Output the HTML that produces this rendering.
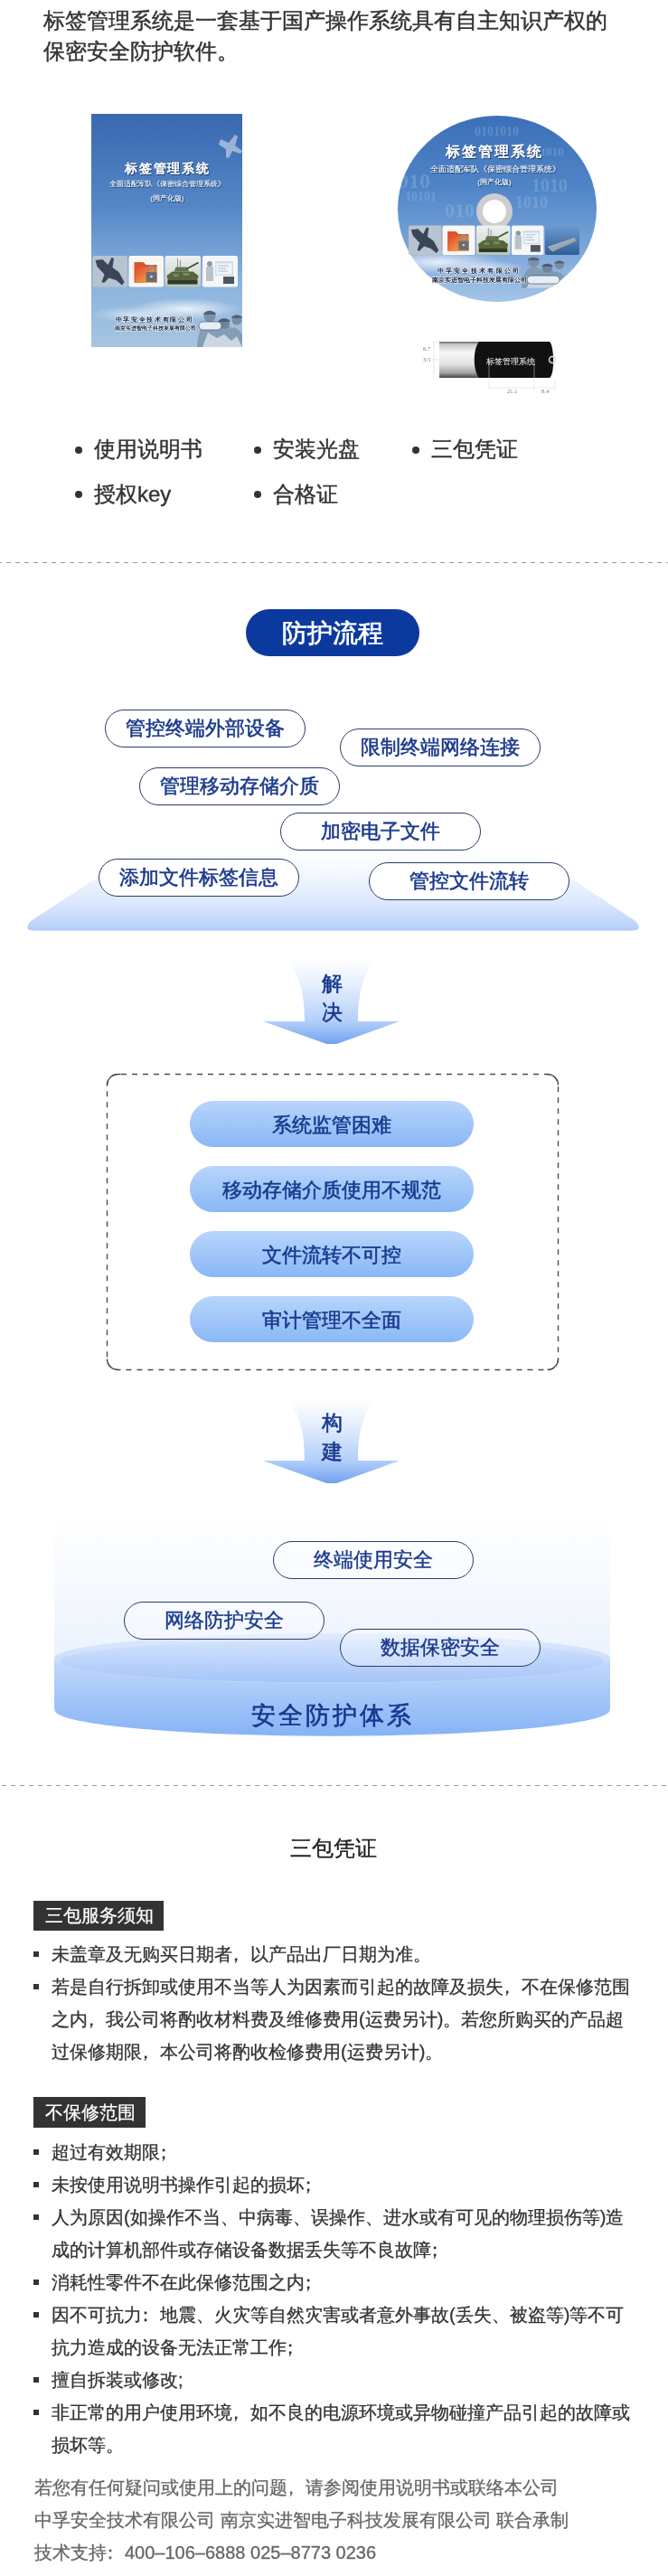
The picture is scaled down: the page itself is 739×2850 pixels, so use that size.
<!DOCTYPE html>
<html><head><meta charset="utf-8">
<style>
*{margin:0;padding:0;box-sizing:border-box}
html,body{width:739px;height:2850px;background:#fff;overflow:hidden}
body{position:relative;font-family:"Liberation Sans",sans-serif;color:#333;will-change:transform}
.a{position:absolute;white-space:nowrap}
.intro{left:48px;top:6px;font-size:24px;line-height:34px;color:#333;-webkit-text-stroke:.45px #333}
.li1{font-size:24px;line-height:30px;color:#333;-webkit-text-stroke:.4px #333}
.dot{position:absolute;width:8px;height:8px;border-radius:50%;background:#333}
.dash{position:absolute;left:0;width:739px;height:1px;background:repeating-linear-gradient(90deg,#999 0 5px,transparent 5px 10px)}
.pill{position:absolute;width:222px;height:42px;border:1.5px solid #2b3d6b;border-radius:21px;background:#fff;color:#1b3a8c;font-size:22px;-webkit-text-stroke:.55px #1b3a8c;text-align:center;line-height:39px;white-space:nowrap}
.pill.r{-webkit-text-stroke:.4px #1b3a8c;background:rgba(255,255,255,.3)}
.bar{position:absolute;left:210px;width:314px;height:51px;border-radius:26px;background:linear-gradient(#b8d5fc,#8ab7f5);color:#1a3a8e;font-size:22px;-webkit-text-stroke:.55px #1a3a8e;text-align:center;line-height:54px;white-space:nowrap}
.lbl{position:absolute;left:37px;height:33px;background:#333;color:#fff;font-size:20px;line-height:33px;padding-left:13px;white-space:nowrap;-webkit-text-stroke:.25px #fff}
.ul{position:absolute;left:37px;font-size:20px;line-height:36px;color:#333;white-space:nowrap;-webkit-text-stroke:.3px #333}
.ul div{position:relative;padding-left:20px}
.ul div.b:before{content:"";position:absolute;left:0;top:15px;width:6px;height:6px;background:#333}
.p{position:relative;left:-.32em}
.foot{position:absolute;left:38px;font-size:20px;line-height:36px;color:#666;white-space:nowrap;-webkit-text-stroke:.3px #666}
</style></head><body>

<div class="a intro">标签管理系统是一套基于国产操作系统具有自主知识产权的<br>保密安全防护软件。</div>

<!-- product images -->
<svg class="a" style="left:0;top:0" width="0" height="0">
<defs>
<radialGradient id="cl" cx=".5" cy=".5" r=".5"><stop offset="0" stop-color="#fff" stop-opacity=".8"/><stop offset="1" stop-color="#fff" stop-opacity="0"/></radialGradient>
<filter id="bl"><feGaussianBlur stdDeviation=".7"/></filter>
<filter id="sh" x="-10%" y="-30%" width="120%" height="160%"><feDropShadow dx=".8" dy="1" stdDeviation=".6" flood-color="#0c2348" flood-opacity=".9"/></filter>
<linearGradient id="tk" x1="0" y1="0" x2="0" y2="1"><stop offset="0" stop-color="#eef1f2"/><stop offset=".6" stop-color="#d5dcd4"/><stop offset="1" stop-color="#b9c3b4"/></linearGradient>
<linearGradient id="fo" x1="0" y1="0" x2="1" y2="1"><stop offset="0" stop-color="#e2452a"/><stop offset="1" stop-color="#f6b851"/></linearGradient>
<linearGradient id="sea" x1="0" y1="0" x2="0" y2="1"><stop offset="0" stop-color="#6b9bd0"/><stop offset="1" stop-color="#2f5f98"/></linearGradient>
<g id="tJet"><rect width="38.5" height="34.5" rx="2" fill="#b7c3cf"/><path d="M3 5L11 4L17 10L21 2L23.5 3L22 13L29 18L35 29L32.5 32.5L26 27L18 24.5L12.5 30L10 29L13 20.5L5 12Z" fill="#3a4658"/></g>
<g id="tFolder"><rect width="38.5" height="34.5" rx="2" fill="#f8f7f4"/><path d="M6 7h10l3 3h12v20h-25z" fill="#d9552b"/><path d="M7 12h23v18h-23z" fill="url(#fo)"/><rect x="19" y="18" width="12" height="11" rx="1" fill="#6a6e73"/><path d="M21.5 18v-3.5a3.5 3.5 0 0 1 7 0v3.5" stroke="#8a8e92" stroke-width="1.8" fill="none"/><circle cx="25" cy="23" r="1.3" fill="#dfe2e5"/></g>
<g id="tTank"><rect width="39.5" height="34.5" rx="2" fill="url(#tk)"/><path d="M2 22L8 17.5H31L37 22L35 30H4Z" fill="#55663d"/><path d="M12 12.5h12l3 5h-17z" fill="#61734a"/><path d="M24 14.5L37 7.5" stroke="#3f4b2e" stroke-width="1.8"/><path d="M3 27h33v4.5h-33z" fill="#2f3a26"/><path d="M14 12.5V3M17 12.5V5" stroke="#555" stroke-width=".6"/><path d="M9 20h6v3h-6zM20 19h7v3h-7z" fill="#7b8a5a"/></g>
<g id="tScreen"><rect width="39" height="34.5" rx="2" fill="#f4f6f8"/><rect x="14" y="6" width="20" height="16" fill="#cfdbe8"/><rect x="15.5" y="8.5" width="17" height="12" fill="#f2f6fa"/><path d="M17 11h12M17 14h9M17 17h11" stroke="#9fb3c8" stroke-width=".9"/><rect x="4" y="12" width="8" height="16" fill="#b9c3cd"/><circle cx="8" cy="9" r="3" fill="#8d98a3"/><rect x="23" y="23" width="12" height="8" fill="#4f5660"/></g>
<g id="tShip"><rect width="38" height="32.5" rx="2" fill="url(#sea)"/><path d="M3 24L33 14L35 17L8 29Z" fill="#9aa5b1"/><path d="M22 17l2-7 3 5z" fill="#6f7a86"/><path d="M3 24L33 14" stroke="#d8dde2" stroke-width=".6"/></g>
<g id="soldiers"><path d="M0 42c1-16 5-26 13-28 5 0 8 4 12 5 5-3 10-2 13 2 5-2 10 2 12 8v13z" fill="#8096ad" opacity=".85"/><circle cx="14" cy="8" r="6.5" fill="#7c8fa4"/><path d="M7 6a7 4 0 0 1 14 0z" fill="#4f6378"/><circle cx="30" cy="16" r="6" fill="#70859b"/><path d="M23.5 14a6.5 3.5 0 0 1 13 0z" fill="#4a5d72"/><circle cx="44" cy="12" r="5.5" fill="#7a8ea3"/><path d="M38 10a6 3.5 0 0 1 12 0z" fill="#4f6378"/><path d="M6 42l6-16 10 6 8-4 8 7 6-5 6 12z" fill="#e3e9ef" opacity=".75"/></g>
</defs></svg>

<svg class="a" style="left:95px;top:120px" width="180" height="270" viewBox="95 120 180 270">
<defs>
<linearGradient id="bk" x1="0" y1="0" x2="0" y2="1">
<stop offset="0" stop-color="#3868b0"/><stop offset=".4" stop-color="#5587c7"/><stop offset=".72" stop-color="#8ab3df"/><stop offset="1" stop-color="#a7c5e0"/></linearGradient>
<clipPath id="bkc"><rect x="101" y="126" width="167" height="258"/></clipPath>
</defs>
<rect x="101" y="126" width="167" height="258" fill="url(#bk)"/>
<g clip-path="url(#bkc)">
<ellipse cx="205" cy="342" rx="60" ry="12" fill="url(#cl)"/>
<ellipse cx="150" cy="348" rx="50" ry="9" fill="url(#cl)" opacity=".7"/>
<g filter="url(#bl)" opacity=".6"><path d="M244 154l9 4 7-9 3 2-3 10 8 6-2 3-9-3-4 8-3-1 0-9-8-5z" fill="#d6e0ea"/></g>
<use href="#soldiers" transform="translate(218 342)"/>
</g>
<g filter="url(#sh)" fill="#fff">
<text x="185.5" y="190.5" font-size="14" font-weight="bold" text-anchor="middle" letter-spacing="1.8">标签管理系统</text>
<text x="185" y="206" font-size="8.4" text-anchor="middle">全面适配军队《保密综合管理系统》</text>
<text x="185" y="221.5" font-size="7.6" text-anchor="middle">(国产化版)</text>
</g>
<use href="#tJet" x="102.5" y="283"/>
<use href="#tFolder" x="142.5" y="283"/>
<use href="#tTank" x="182.5" y="283"/>
<use href="#tScreen" x="224" y="283"/>
<text x="171" y="356" font-size="7" font-weight="bold" fill="#101c38" stroke="#fff" stroke-width="1" paint-order="stroke" letter-spacing="1.7" text-anchor="middle">中孚安全技术有限公司</text>
<text x="172" y="365" font-size="6" font-weight="bold" fill="#101c38" stroke="#fff" stroke-width="1" paint-order="stroke" text-anchor="middle">南京实进智电子科技发展有限公司</text>
<rect x="220" y="356" width="25" height="9" rx="4.5" fill="#e8eef6" stroke="#2a3f6a" stroke-width=".6"/>
</svg>

<svg class="a" style="left:430px;top:120px" width="240" height="230" viewBox="430 120 240 230">
<defs>
<linearGradient id="cd" x1="0" y1="0" x2="0" y2="1">
<stop offset="0" stop-color="#3a6db6"/><stop offset=".38" stop-color="#4f85c7"/><stop offset=".7" stop-color="#80a9db"/><stop offset="1" stop-color="#aecdec"/></linearGradient>
<clipPath id="cdc"><ellipse cx="550" cy="231" rx="110" ry="103"/></clipPath>
</defs>
<g clip-path="url(#cdc)">
<rect x="430" y="120" width="240" height="230" fill="url(#cd)"/>
<g fill="#a9c6ea" opacity=".3" font-weight="bold" font-family="Liberation Serif,serif">
<text x="525" y="150" font-size="14">0101010</text>
<text x="592" y="172" font-size="13">11010</text>
<text x="440" y="208" font-size="24">010</text>
<text x="448" y="222" font-size="14">10101</text>
<text x="492" y="240" font-size="22">010</text>
<text x="570" y="230" font-size="18">1010</text>
<text x="588" y="212" font-size="20">1010</text>
<text x="600" y="258" font-size="12">0 10</text>
<text x="470" y="257" font-size="13">01010</text>
</g>
<ellipse cx="485" cy="290" rx="70" ry="13" fill="url(#cl)"/>
<ellipse cx="540" cy="296" rx="40" ry="8" fill="url(#cl)" opacity=".7"/>
<use href="#soldiers" transform="translate(577 283) scale(.95 .85)"/>
</g>
<g filter="url(#sh)" fill="#fff">
<text x="547" y="173" font-size="15.5" font-weight="bold" text-anchor="middle" letter-spacing="2">标签管理系统</text>
<text x="548" y="189.5" font-size="9.3" text-anchor="middle">全面适配军队《保密综合管理系统》</text>
<text x="547" y="203.5" font-size="8" text-anchor="middle">(国产化版)</text>
</g>
<circle cx="547" cy="234" r="20" fill="#cdcdd0"/><circle cx="547" cy="234" r="13" fill="#fff"/>
<use href="#tJet" transform="translate(452 249.5) scale(.95 .94)"/>
<use href="#tFolder" transform="translate(489.5 249.5) scale(.935 .94)"/>
<use href="#tTank" transform="translate(527 249.5) scale(.95 .94)"/>
<use href="#tScreen" transform="translate(566 249.5) scale(.91 .94)"/>
<use href="#tShip" transform="translate(603 249.5)"/>
<text x="530" y="302" font-size="7.4" font-weight="bold" fill="#101c38" stroke="#fff" stroke-width="1" paint-order="stroke" letter-spacing="2.3" text-anchor="middle">中孚安全技术有限公司</text>
<text x="530" y="311.5" font-size="6.8" font-weight="bold" fill="#101c38" stroke="#fff" stroke-width="1" paint-order="stroke" text-anchor="middle">南京实进智电子科技发展有限公司</text>
<rect x="583" y="305" width="36" height="9" rx="4.5" fill="#e8eef6" stroke="#2a3f6a" stroke-width=".6"/>
</svg>

<svg class="a" style="left:460px;top:365px" width="160" height="75" viewBox="460 365 160 75">
<defs>
<linearGradient id="sv" x1="0" y1="0" x2="0" y2="1">
<stop offset="0" stop-color="#666"/><stop offset=".08" stop-color="#c8c8c8"/><stop offset=".3" stop-color="#f8f8f8"/><stop offset=".62" stop-color="#e2e2e2"/><stop offset=".86" stop-color="#a4a4a4"/><stop offset="1" stop-color="#454545"/></linearGradient>
</defs>
<path d="M486 378h46c-6 8-6 32 0 40h-46z" fill="url(#sv)"/>
<path d="M530 378h78c5 4 6 36 0 40h-78c-7-8-7-32 0-40z" fill="#111"/>
<circle cx="611" cy="398" r="3.5" fill="none" stroke="#ddd" stroke-width="1.5"/>
<text x="565" y="403" font-size="8.8" fill="#fff" text-anchor="middle">标签管理系统</text>
<g stroke="#e3cccc" stroke-width=".5" fill="none"><path d="M480 378v40M478 378h8M478 398h8M541 398v33M591 398v33M541 429h50M614 420v12M591 429h23"/></g>
<g font-size="6.5" fill="#777" font-family="Liberation Serif,serif"><text x="468" y="388">6.7</text><text x="468" y="400">3.5</text><text x="561" y="435">21.1</text><text x="599" y="435">8.4</text></g>
</svg>

<!-- bullet list -->
<div class="dot" style="left:83px;top:494px"></div>
<div class="a li1" style="left:104px;top:482px">使用说明书</div>
<div class="dot" style="left:281px;top:494px"></div>
<div class="a li1" style="left:302px;top:482px">安装光盘</div>
<div class="dot" style="left:456px;top:494px"></div>
<div class="a li1" style="left:477px;top:482px">三包凭证</div>
<div class="dot" style="left:83px;top:543px"></div>
<div class="a li1" style="left:104px;top:532px">授权key</div>
<div class="dot" style="left:281px;top:543px"></div>
<div class="a li1" style="left:302px;top:532px">合格证</div>

<div class="dash" style="top:622px;background:repeating-linear-gradient(90deg,#999 0 2px,transparent 2px 7px,#999 7px 10px)"></div>

<!-- 防护流程 -->
<div class="a" style="left:272px;top:674px;width:192px;height:52px;border-radius:26px;background:#0c399e;color:#fff;font-size:28px;-webkit-text-stroke:.7px #fff;text-align:center;line-height:53px">防护流程</div>

<svg class="a" style="left:0;top:900px" width="739" height="140"><defs><linearGradient id="pf" x1="0" y1="0" x2="0" y2="1"><stop offset="0" stop-color="#fff" stop-opacity="0"/><stop offset=".4" stop-color="#f1f6fe"/><stop offset=".7" stop-color="#dae7fd"/><stop offset=".95" stop-color="#bcd3f9"/><stop offset="1" stop-color="#adc7f6"/></linearGradient></defs><path d="M170 30H569L703 119Q712 129.5 700 129.5H37Q25 129.5 34 119Z" fill="url(#pf)"/></svg>

<div class="pill" style="left:115.5px;top:784.5px">管控终端外部设备</div>
<div class="pill" style="left:375.5px;top:805.5px">限制终端网络连接</div>
<div class="pill" style="left:153.5px;top:848.5px">管理移动存储介质</div>
<div class="pill" style="left:309.5px;top:899px">加密电子文件</div>
<div class="pill" style="left:108.5px;top:949.5px">添加文件标签信息</div>
<div class="pill" style="left:408px;top:953.5px">管控文件流转</div>

<!-- arrow 1 -->
<svg class="a" style="left:280px;top:1055px" width="180" height="100" viewBox="280 1055 180 100"><defs><linearGradient id="ar1" x1="0" y1="0" x2="0" y2="1"><stop offset="0" stop-color="#fff"/><stop offset=".3" stop-color="#e4eefd"/><stop offset=".72" stop-color="#b2cef9"/><stop offset="1" stop-color="#6b9ff0"/></linearGradient></defs><path d="M320 1062C330 1080 337 1095 337 1130H291L367 1157L442 1130H396C396 1095 403 1080 413 1062Z" fill="url(#ar1)"/></svg>
<div class="a" style="left:356px;top:1072px;font-size:23px;line-height:32px;color:#193a90;-webkit-text-stroke:.6px #193a90;white-space:normal;width:24px">解<br>决</div>

<!-- dashed box -->
<svg class="a" style="left:117px;top:1187px" width="503" height="331"><g fill="none" stroke="#4b4b56" stroke-width="1.4"><rect x="1.5" y="1.5" width="499" height="327" rx="12" stroke-dasharray="6 6" stroke-dashoffset="8.5"/><path d="M1.5 14.5A12 12 0 0 1 13.5 1.5h3M488.5 1.5A12 12 0 0 1 500.5 13.5M500.5 316.5A12 12 0 0 1 488.5 328.5M13.5 328.5A12 12 0 0 1 1.5 316.5"/></g></svg>
<div class="bar" style="top:1218px">系统监管困难</div>
<div class="bar" style="top:1290px">移动存储介质使用不规范</div>
<div class="bar" style="top:1362px">文件流转不可控</div>
<div class="bar" style="top:1434px">审计管理不全面</div>

<!-- arrow 2 -->
<svg class="a" style="left:280px;top:1541px" width="180" height="100" viewBox="280 1055 180 100"><defs><linearGradient id="ar2" x1="0" y1="0" x2="0" y2="1"><stop offset="0" stop-color="#fff"/><stop offset=".3" stop-color="#e4eefd"/><stop offset=".72" stop-color="#b2cef9"/><stop offset="1" stop-color="#6b9ff0"/></linearGradient></defs><path d="M320 1062C330 1080 337 1095 337 1130H291L367 1157L442 1130H396C396 1095 403 1080 413 1062Z" fill="url(#ar2)"/></svg>
<div class="a" style="left:356px;top:1558px;font-size:23px;line-height:32px;color:#193a90;-webkit-text-stroke:.6px #193a90;white-space:normal;width:24px">构<br>建</div>

<!-- security system -->
<div class="a" style="left:60px;top:1673px;width:615px;height:200px;background:linear-gradient(rgba(240,245,254,0),#e8f0fd)"></div>
<svg class="a" style="left:50px;top:1790px" width="640" height="140" viewBox="50 1790 640 140"><defs>
<linearGradient id="cy1" x1="0" y1="0" x2="0" y2="1"><stop offset="0" stop-color="#c3dafc"/><stop offset="1" stop-color="#86b3f5"/></linearGradient>
<linearGradient id="cy2" x1="0" y1="0" x2="0" y2="1"><stop offset="0" stop-color="#dfeafe"/><stop offset="1" stop-color="#b9d2fa"/></linearGradient>
<linearGradient id="cy3" x1="0" y1="0" x2="0" y2="1"><stop offset="0" stop-color="#d3e2fd"/><stop offset="1" stop-color="#a1c2f8"/></linearGradient></defs>
<path d="M60 1835V1889Q60 1893 62 1895A307.5 29 0 0 0 673 1895Q675 1893 675 1889V1835Z" fill="url(#cy1)"/>
<ellipse cx="367.5" cy="1835" rx="307.5" ry="28" fill="url(#cy2)"/>
<ellipse cx="367.5" cy="1838" rx="301" ry="23.5" fill="url(#cy3)" opacity=".85"/>
</svg>
<div class="pill r" style="left:301.5px;top:1705px">终端使用安全</div>
<div class="pill r" style="left:136.5px;top:1771.5px">网络防护安全</div>
<div class="pill r" style="left:376px;top:1802px">数据保密安全</div>
<div class="a" style="left:278px;top:1880px;font-size:27px;line-height:36px;color:#17388f;letter-spacing:3px;-webkit-text-stroke:.6px #17388f">安全防护体系</div>

<div class="dash" style="top:1975px;background:repeating-linear-gradient(90deg,transparent 0 2px,#999 2px 7px,transparent 7px 10px)"></div>

<!-- 三包凭证 -->
<div class="a" style="left:321px;top:2030px;font-size:24px;line-height:30px;color:#222;-webkit-text-stroke:.35px #222">三包凭证</div>

<div class="lbl" style="top:2103px;width:144px">三包服务须知</div>
<div class="ul" style="top:2144px">
<div class="b">未盖章及无购买日期者<span class="p">，</span>以产品出厂日期为准。</div>
<div class="b">若是自行拆卸或使用不当等人为因素而引起的故障及损失<span class="p">，</span>不在保修范围</div>
<div>之内<span class="p">，</span>我公司将酌收材料费及维修费用(运费另计)。若您所购买的产品超</div>
<div>过保修期限<span class="p">，</span>本公司将酌收检修费用(运费另计)。</div>
</div>

<div class="lbl" style="top:2320px;width:124px;height:34px;line-height:34px">不保修范围</div>
<div class="ul" style="top:2363px">
<div class="b">超过有效期限<span class="p">；</span></div>
<div class="b">未按使用说明书操作引起的损坏<span class="p">；</span></div>
<div class="b">人为原因(如操作不当、中病毒、误操作、进水或有可见的物理损伤等)造</div>
<div>成的计算机部件或存储设备数据丢失等不良故障<span class="p">；</span></div>
<div class="b">消耗性零件不在此保修范围之内<span class="p">；</span></div>
<div class="b">因不可抗力<span class="p">：</span>地震、火灾等自然灾害或者意外事故(丢失、被盗等)等不可</div>
<div>抗力造成的设备无法正常工作<span class="p">；</span></div>
<div class="b">擅自拆装或修改;</div>
<div class="b">非正常的用户使用环境<span class="p">，</span>如不良的电源环境或异物碰撞产品引起的故障或</div>
<div>损坏等。</div>
</div>

<div class="foot" style="top:2734px">若您有任何疑问或使用上的问题<span class="p">，</span>请参阅使用说明书或联络本公司<br>中孚安全技术有限公司 南京实进智电子科技发展有限公司 联合承制<br>技术支持<span class="p">：</span>400–106–6888 025–8773 0236</div>

</body></html>
